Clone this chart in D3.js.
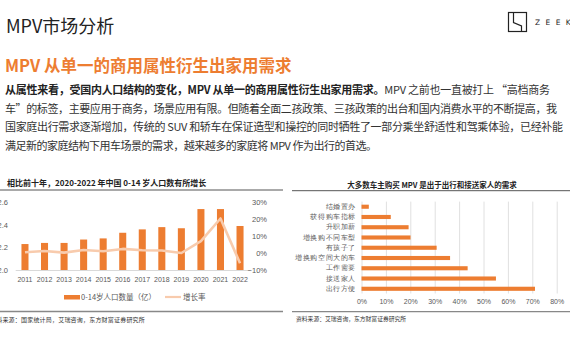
<!DOCTYPE html>
<html><head><meta charset="utf-8">
<script src="https://cdn.jsdelivr.net/npm/d3@7"></script>
<style>
html,body{margin:0;padding:0;background:#fff;overflow:hidden}
svg{display:block;font-family:"Noto Sans CJK SC","Noto Sans",sans-serif}
</style></head>
<body><svg id="c" width="570" height="360"></svg>
<script>
// ---- data ----
const years = ["2011","2012","2013","2014","2015","2016","2017","2018","2019","2020","2021","2022"];
const population = [2.23,2.24,2.24,2.27,2.28,2.33,2.36,2.38,2.37,2.54,2.54,2.39]; // 亿
const growthRate = [0.004,0.012,0.002,0.018,0.010,0.024,0.016,0.015,0.000,0.070,0.203,-0.060];
const leftTicks = [2.0,2.2,2.4,2.6];
const rightTicks = [-0.1,0,0.1,0.2,0.3];

const reasons = ["结婚置办","获得购车指标","升职加薪","增换购不同车型","有孩子了","增换购空间大的车","工作需要","接送家人","出行方便"];
const reasonValues = [0.03,0.12,0.193,0.201,0.308,0.363,0.435,0.551,0.711];
const pctTicks = [0,0.1,0.2,0.3,0.4,0.5,0.6,0.7,0.8];

const ORANGE = "#ED7D31", PEACH = "#F8CBAD", GRAY = "#595959";
const svg = d3.select("#c");

// ---- header ----
svg.append("text").attr("x",6).attr("y",33).attr("font-size",18).attr("fill","#222").text("MPV市场分析");
// logo
const lg = svg.append("g");
lg.append("rect").attr("x",508.5).attr("y",12.5).attr("width",18).attr("height",19).attr("fill","none").attr("stroke","#222").attr("stroke-width",1.2);
lg.append("path").attr("d","M513.5,13 V22.5 L521.5,26 V31").attr("fill","none").attr("stroke","#222").attr("stroke-width",1.2);
svg.append("text").attr("x",535).attr("y",24.5).attr("font-size",7.5).attr("letter-spacing",5.4).attr("fill","#222").attr("font-family","DejaVu Sans").text("ZEEKR");

svg.append("text").attr("x",5).attr("y",72).attr("font-size",16.5).attr("font-weight","bold").attr("fill",ORANGE).text("MPV 从单一的商用属性衍生出家用需求");

// paragraph
const para = svg.append("g").attr("font-size",11).attr("fill","#333");
const l1 = para.append("text").attr("x",5).attr("y",94).attr("textLength",545).attr("lengthAdjust","spacing");
l1.append("tspan").attr("font-weight","bold").attr("fill","#222").text("从属性来看，受国内人口结构的变化，MPV 从单一的商用属性衍生出家用需求。");
l1.append("tspan").text("MPV 之前也一直被打上 “高档商务");
para.append("text").attr("x",5).attr("y",112.5).attr("textLength",552).attr("lengthAdjust","spacing")
  .text("车”的标签，主要应用于商务，场景应用有限。但随着全面二孩政策、三孩政策的出台和国内消费水平的不断提高，我");
para.append("text").attr("x",5).attr("y",131).attr("textLength",558).attr("lengthAdjust","spacing")
  .text("国家庭出行需求逐渐增加，传统的 SUV 和轿车在保证造型和操控的同时牺牲了一部分乘坐舒适性和驾乘体验，已经补能");
para.append("text").attr("x",5).attr("y",149.5).attr("textLength",372).attr("lengthAdjust","spacing")
  .text("满足新的家庭结构下用车场景的需求，越来越多的家庭将 MPV 作为出行的首选。");

// ---- left chart ----
svg.append("text").attr("x",7).attr("y",185.5).attr("font-size",8).attr("font-weight","bold").attr("fill","#222")
  .text("相比前十年，2020-2022 年中国 0-14 岁人口数有所增长");
svg.append("line").attr("x1",0).attr("x2",283).attr("y1",190).attr("y2",190).attr("stroke","#555").attr("stroke-width",1);

const x = d3.scaleBand().domain(years).range([15.2,249.8]).paddingInner(0.64).paddingOuter(0.32);
const yL = d3.scaleLinear().domain([2.0,2.6]).range([270,202.3]);
const yR = d3.scaleLinear().domain([-0.1,0.3]).range([270,202]);

svg.append("g").attr("transform","translate(0,270)")
  .call(d3.axisBottom(x).tickSize(0).tickPadding(7))
  .call(g=>g.select(".domain").attr("stroke","#d9d9d9"))
  .call(g=>g.selectAll("text").attr("font-size",7).attr("fill",GRAY).attr("font-family","Liberation Sans"));

svg.append("g").attr("transform","translate(8,0)")
  .call(d3.axisLeft(yL).tickValues(leftTicks).tickFormat(d3.format(".1f")).tickSize(0).tickPadding(0))
  .call(g=>g.select(".domain").remove())
  .call(g=>g.selectAll("text").attr("font-size",7.5).attr("fill",GRAY).attr("font-family","Liberation Sans"));

svg.append("g").attr("transform","translate(267,0)")
  .call(d3.axisLeft(yR).tickValues(rightTicks).tickFormat(d=>(d<0?"−":"")+Math.abs(Math.round(d*100))+"%").tickSize(0).tickPadding(0))
  .call(g=>g.select(".domain").remove())
  .call(g=>g.selectAll("text").attr("font-size",7.5).attr("fill",GRAY).attr("font-family","Liberation Sans"));

svg.append("g").selectAll("rect").data(years).join("rect")
  .attr("x",d=>x(d)).attr("width",x.bandwidth())
  .attr("y",(d,i)=>yL(population[i])).attr("height",(d,i)=>yL(2.0)-yL(population[i]))
  .attr("fill",ORANGE);

svg.append("path").datum(growthRate)
  .attr("d",d3.line().x((d,i)=>x(years[i])+x.bandwidth()/2).y(d=>yR(d)))
  .attr("fill","none").attr("stroke",PEACH).attr("stroke-width",2.6).attr("stroke-linejoin","round");

// legend
svg.append("rect").attr("x",64).attr("y",295).attr("width",16).attr("height",4.5).attr("fill",ORANGE);
svg.append("text").attr("x",81).attr("y",300).attr("font-size",7.5).attr("fill",GRAY).text("0-14岁人口数量（亿）");
svg.append("line").attr("x1",165).attr("x2",181).attr("y1",297).attr("y2",297).attr("stroke",PEACH).attr("stroke-width",2.2);
svg.append("text").attr("x",183).attr("y",300).attr("font-size",7.5).attr("fill",GRAY).text("增长率");

svg.append("line").attr("x1",0).attr("x2",283).attr("y1",311.5).attr("y2",311.5).attr("stroke","#888").attr("stroke-width",1.3);
svg.append("text").attr("x",-10).attr("y",322).attr("font-size",6).attr("letter-spacing",0.2).attr("fill","#333")
  .text("资料来源：国家统计局，艾瑞咨询，东方财富证券研究所");

// ---- right chart ----
svg.append("text").attr("x",432).attr("y",188).attr("text-anchor","middle").attr("font-size",7.5).attr("font-weight","bold").attr("fill","#222")
  .text("大多数车主购买 MPV 是出于出行和接送家人的需求");
svg.append("line").attr("x1",292).attr("x2",570).attr("y1",190.7).attr("y2",190.7).attr("stroke","#555").attr("stroke-width",1);

const xP = d3.scaleLinear().domain([0,0.8]).range([361.5,556.7]);
const yC = d3.scaleBand().domain(reasons).range([201.6,293.9]).paddingInner(0.6).paddingOuter(0.3);

svg.append("g").attr("transform","translate(0,293.5)")
  .call(d3.axisBottom(xP).tickValues(pctTicks).tickFormat(d=>Math.round(d*100)+"%").tickSize(-(293.5-201.6)).tickPadding(6))
  .call(g=>g.select(".domain").remove())
  .call(g=>g.selectAll("line").attr("stroke","#e0e0e0"))
  .call(g=>g.selectAll("text").attr("font-size",7).attr("fill",GRAY).attr("font-family","Liberation Sans"));

svg.append("g").attr("transform","translate(356,0)")
  .call(d3.axisLeft(yC).tickSize(0).tickPadding(0))
  .call(g=>g.select(".domain").remove())
  .call(g=>g.selectAll("text").attr("font-size",6.5).attr("letter-spacing",0.6).attr("fill",GRAY));

svg.append("g").selectAll("rect").data(reasons).join("rect")
  .attr("x",xP(0)).attr("y",d=>yC(d)).attr("height",yC.bandwidth())
  .attr("width",(d,i)=>xP(reasonValues[i])-xP(0)).attr("fill",ORANGE);

svg.append("line").attr("x1",292).attr("x2",570).attr("y1",311.7).attr("y2",311.7).attr("stroke","#888").attr("stroke-width",1.3);
svg.append("text").attr("x",296).attr("y",321).attr("font-size",5.8).attr("fill","#333")
  .text("资料来源：艾瑞咨询，东方财富证券研究所");
</script></body></html>
